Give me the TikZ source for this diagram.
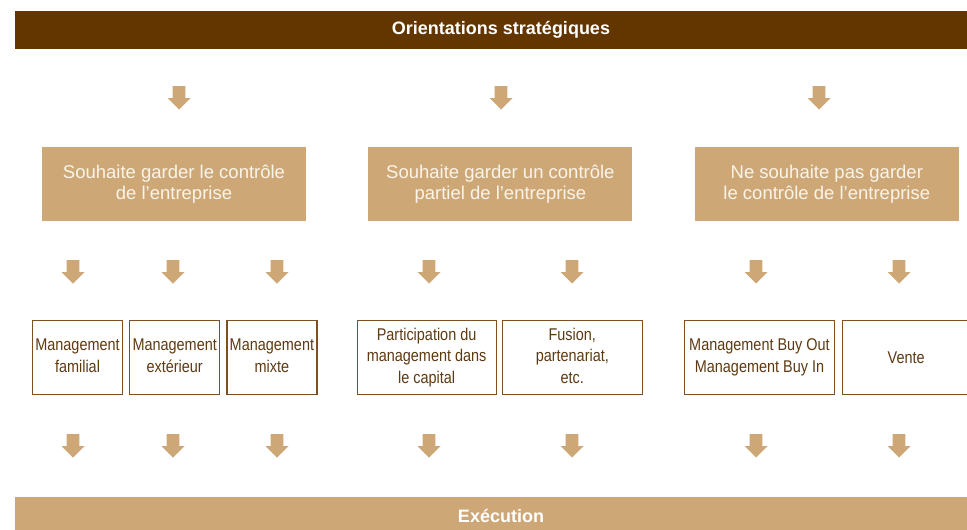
\documentclass[tikz,border=0pt]{standalone}
\usepackage{fontspec}
\setmainfont{Liberation Sans}
\newfontfamily\narrowfont[FakeStretch=0.85]{Liberation Sans}
\usetikzlibrary{positioning}

\definecolor{darkbrown}{HTML}{633600}
\definecolor{tan}{HTML}{CDA876}
\definecolor{boxline}{HTML}{7D5024}
\definecolor{boxtext}{HTML}{5E3A12}
\definecolor{paletext}{HTML}{FBF4EA}

\tikzset{down arrow/.pic={
  \fill[tan] (-6.3,-12) -- (6.3,-12) -- (6.3,0) -- (11.5,0) -- (0,11.5) -- (-11.5,0) -- (-6.3,0) -- cycle;}}

\begin{document}
\begin{tikzpicture}[x=1pt,y=-1pt,
  bar/.style={minimum width=972pt,minimum height=38pt,inner sep=0pt,text=white,font=\bfseries\fontsize{18}{21}\selectfont},
  choice/.style={fill=tan,minimum width=264pt,minimum height=74pt,inner sep=0pt,align=center,text=paletext,font=\fontsize{18.5}{21}\selectfont},
  leaf/.style={draw=boxline,line width=1.2pt,minimum height=74pt,inner sep=0pt,align=center,text=boxtext,font=\narrowfont\fontsize{17}{21.5}\selectfont}]

  \clip (0,0) rectangle (967,530);
  \fill[white] (0,0) rectangle (967,530);

  \node[bar,fill=darkbrown] (top) at (501,30) {Orientations stratégiques};
  \node[bar,fill=tan] (bottom) at (501,516) {Exécution};

  \node[choice] (c1) at (174,184) {Souhaite garder le contrôle\\de l’entreprise\vphantom{y}};
  \node[choice] (c2) [right=62pt of c1] {Souhaite garder un contrôle\\partiel de l’entreprise\vphantom{y}};
  \node[choice] (c3) [right=62pt of c2] {Ne souhaite pas garder\\le contrôle de l’entreprise};

  \node[leaf,minimum width=90pt] (a) at (77.5,357.5) {Management\\familial\vphantom{g}};
  \node[leaf,minimum width=90pt] (b) [right=6pt of a] {Management\\extérieur\vphantom{g}};
  \node[leaf,minimum width=90pt] (c) [right=6pt of b] {Management\\mixte\vphantom{g}};
  \node[leaf,minimum width=139pt] (d) [right=39pt of c] {Participation du\\management dans\\le capital};
  \node[leaf,minimum width=140pt] (e) [right=5pt of d] {Fusion,\\partenariat,\\etc.\vphantom{g}};
  \node[leaf,minimum width=150pt] (f) [right=41pt of e] {Management Buy Out\\Management Buy In};
  \node[leaf,minimum width=127pt] (g) [right=7pt of f] {Vente};

  % arrows
  \foreach \x in {179,501,819}
    \pic at (\x,98) {down arrow};
  \foreach \x in {73,173,277,429,572,756,899} {
    \pic at (\x,272) {down arrow};
    \pic at (\x,446) {down arrow};
  }

\end{tikzpicture}
\end{document}
